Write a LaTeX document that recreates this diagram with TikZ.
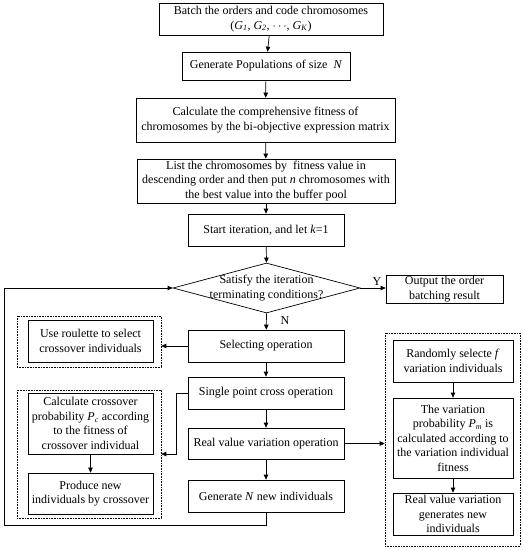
\documentclass[tikz,border=0pt]{standalone}
\usepackage{fontspec}
\setmainfont{Liberation Serif}
\usetikzlibrary{arrows.meta,shapes.geometric}
\newcommand{\subit}[2]{\textit{#1}\textsubscript{\textit{#2}}}
\begin{document}
\begin{tikzpicture}[x=1pt,y=-1pt,
  font=\fontsize{12}{14.5}\selectfont,
  line width=0.7pt,
  box/.style={draw, align=center, inner sep=0pt},
  grp/.style={draw, densely dotted, line width=0.6pt, inner sep=0pt},
  arr/.style={-{Triangle[length=5pt,width=4.5pt]}},
]
\useasboundingbox (0,0) rectangle (523,550);
% main column
\node[box, minimum width=224pt, minimum height=32pt] (b1) at (271,19)
  {Batch the orders and code chromosomes\\(\subit{G}{1}, \subit{G}{2}, $\cdots$, \subit{G}{K})};
\node[box, minimum width=168pt, minimum height=28pt] (b2) at (266,66)
  {Generate Populations of size \ \textit{N}};
\node[box, minimum width=259pt, minimum height=44pt] (b3) at (265.5,120)
  {Calculate the comprehensive fitness of\\chromosomes by the bi-objective expression matrix};
\node[box, minimum width=258pt, minimum height=44pt] (b4) at (266,181)
  {List the chromosomes by \ fitness value in\\descending order and then put \textit{n} chromosomes with\\the best value into the buffer pool};
\node[box, minimum width=156pt, minimum height=32pt] (b5) at (266,230)
  {Start iteration, and let \textit{k}=1};
\node[diamond, draw, minimum width=187pt, minimum height=50pt, inner sep=0pt] (d) at (266.5,288) {};
\node[align=center] (dt) at (d.center) {Satisfy the iteration\\terminating conditions?};
\node[box, minimum width=117pt, minimum height=28pt] (out) at (444.5,289)
  {Output the order\\batching result};
\node (ylab) at (377,282) {Y};
\node (nlab) at (285,321) {N};
\node[box, minimum width=156pt, minimum height=32pt] (sel) at (266,346) {Selecting operation};
\node[box, minimum width=156pt, minimum height=32pt] (single) at (266,393) {Single point cross operation};
\node[box, minimum width=156pt, minimum height=31pt] (real) at (266,443.5) {Real value variation operation};
\node[box, minimum width=156pt, minimum height=32pt] (gen) at (266,496) {Generate \textit{N} new individuals};
% left groups
\node[grp, minimum width=144pt, minimum height=51pt] (g1) at (89,341.5) {};
\node[box, minimum width=125pt, minimum height=42pt] (roul) at (90.5,341)
  {Use roulette to select\\crossover individuals};
\node[grp, minimum width=144pt, minimum height=128pt] (g2) at (89,454) {};
\node[box, minimum width=125pt, minimum height=61pt] (calc) at (90.5,423.5)
  {Calculate crossover\\probability \subit{P}{c} according\\to the fitness of\\crossover individual};
\node[box, minimum width=125pt, minimum height=41pt] (prod) at (90.5,493.5)
  {Produce new\\individuals by crossover};
% right group
\node[grp, minimum width=135pt, minimum height=213pt] (g3) at (452.5,439.5) {};
\node[box, minimum width=120pt, minimum height=42pt] (rand) at (453,361)
  {Randomly selecte \textit{f}\\variation individuals};
\node[box, minimum width=120pt, minimum height=80pt] (vprob) at (453,438)
  {The variation\\probability \subit{P}{m} is\\calculated according to\\the variation individual\\fitness};
\node[box, minimum width=120pt, minimum height=42pt] (rgen) at (453,514)
  {Real value variation\\generates new\\individuals};
% connectors
\draw[arr] (b1) -- (b2);
\draw[arr] (b2) -- (b3);
\draw[arr] (b3) -- (b4);
\draw[arr] (b4) -- (b5);
\draw[arr] (b5) -- (d.north);
\draw[arr] (d.east) -- (out.west |- d.east);
\draw[arr] (d.south) -- (sel);
\draw[arr] (sel) -- (single);
\draw[arr] (single) -- (real);
\draw[arr] (real) -- (gen);
\draw[arr] (gen.south) -- ++(0,13) -| (4,288) -- (d.west);
\draw[arr] (sel.west) -- (g1.east |- sel.west);
\draw[arr] (single.west) -- ++(-11,0) |- (g2.east);
\draw[arr] (real.east) -- (g3.west |- real.east);
\draw[arr] (calc) -- (prod);
\draw[arr] (rand) -- (vprob);
\draw[arr] (vprob) -- (rgen);
\end{tikzpicture}
\end{document}
